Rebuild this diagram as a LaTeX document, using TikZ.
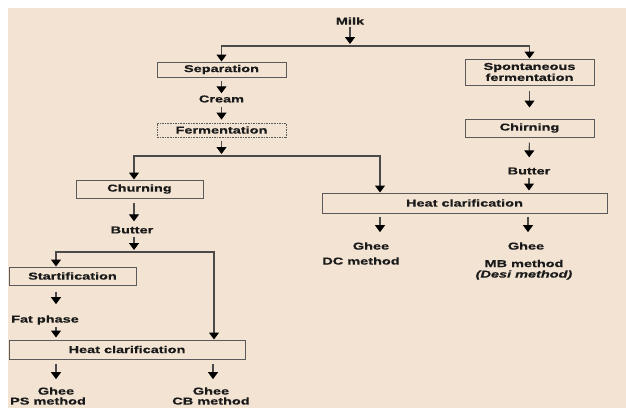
\documentclass[tikz,border=0pt]{standalone}
\usepackage{fontspec}
\newfontfamily\dfont{Liberation Sans}[FakeStretch=1.45,FakeBold=0.6]
\usetikzlibrary{arrows.meta}
\definecolor{bgc}{HTML}{F3E3D2}
\definecolor{linec}{HTML}{4A4A4A}
\definecolor{boxc}{HTML}{5A5A5A}
\definecolor{txtc}{HTML}{1A1A1A}
\begin{document}
\begin{tikzpicture}[x=1pt,y=-1pt,
  font=\dfont\bfseries\fontsize{10}{12}\selectfont, text=txtc,
  box/.style={draw=boxc, line width=1pt, inner sep=0pt, align=center},
  lbl/.style={inner sep=0pt, align=center},
  arr/.style={draw=linec, line width=1.1pt, -{Triangle[width=10pt,length=7pt,color=black]}},
  dbox/.style={box, dash pattern=on 1.6pt off 1pt, line width=0.8pt}]
\useasboundingbox (0,0) rectangle (626,408);
\fill[white] (0,0) rectangle (626,408);
\fill[bgc] (8,8) rectangle (626,408);

% nodes
\node[lbl] (milk) at (350,21) {Milk};
\coordinate (s1) at (350,46);
\node[box, minimum width=129pt, minimum height=15pt] (sep) at (221.5,69.5) {Separation};
\node[lbl] (cream) at (221.5,99) {Cream};
\node[dbox, minimum width=129pt, minimum height=14pt] (ferm) at (221.5,130) {Fermentation};
\coordinate (s2) at (221.5,156);
\coordinate (s2l) at (134,156);
\coordinate (s2r) at (380,156);
\node[box, minimum width=127pt, minimum height=18pt] (churn) at (139.5,189) {Churning};

\node[box, minimum width=129pt, minimum height=26pt] (spont) at (529.5,72) {Spontaneous\\[-1pt]fermentation};
\node[box, minimum width=129pt, minimum height=18pt] (chirn) at (529.5,128) {Chirning};
\node[lbl] (butter2) at (529,171) {Butter};
\node[box, minimum width=285pt, minimum height=20pt] (hc1) at (464.5,203) {Heat clarification};
\coordinate (c1) at (380,203);
\coordinate (c2) at (528,203);
\node[lbl] (ghee3) at (371,246) {Ghee};
\node[lbl] (dc) at (361,261) {DC method};
\node[lbl] (ghee4) at (526,246) {Ghee};
\node[lbl] (mb) at (524,263.5) {MB method};
\node[lbl] (desi) at (524,275) {\itshape (Desi method)};

\node[lbl] (butter1) at (132,230) {Butter};
\coordinate (s3) at (134,252);
\coordinate (s3l) at (56,252);
\coordinate (s3r) at (214,252);
\node[box, minimum width=127pt, minimum height=18pt] (strat) at (72.5,276) {Startification};
\node[lbl] (fat) at (45,320) {Fat phase};
\node[box, minimum width=236pt, minimum height=19pt] (hc2) at (127,349.5) {Heat clarification};
\coordinate (c3) at (213,349.5);
\node[lbl] (ghee1) at (56,391) {Ghee};
\node[lbl] (ps) at (48,401) {PS method};
\node[lbl] (ghee2) at (211,391) {Ghee};
\node[lbl] (cb) at (211,401) {CB method};

% connectors
\draw[arr, shorten <=2pt, shorten >=2pt] (milk.south) -- (s1);
\draw[arr] (s1) -| (sep.north);
\draw[arr] (s1) -| (spont.north);
\draw[arr, shorten <=3pt, shorten >=2pt] (sep) -- (cream);
\draw[arr, shorten <=4pt, shorten >=3pt] (cream) -- (ferm);
\draw[arr, shorten <=4pt, shorten >=2pt] (ferm.south) -- (s2);
\draw[arr] (s2) -- (s2l) -- (churn.north -| s2l);
\draw[arr] (s2) -- (s2r) -- (hc1.north -| s2r);

\draw[arr, shorten <=5pt, shorten >=11pt] (spont) -- (chirn);
\draw[arr, shorten <=5pt, shorten >=10pt] (chirn) -- (butter2);
\draw[arr, shorten <=3pt, shorten >=2pt] (butter2) -- (hc1.north -| butter2);
\draw[arr, shorten <=3pt, shorten >=10pt] (hc1.south -| c1) -- (ghee3.north -| c1);
\draw[arr, shorten <=3pt, shorten >=10pt] (hc1.south -| c2) -- (ghee4.north -| c2);

\draw[arr, shorten <=4pt, shorten >=5pt] (churn.south -| s3) -- (butter1.north -| s3);
\draw[arr, shorten <=3pt, shorten >=2pt] (butter1.south -| s3) -- (s3);
\draw[arr] (s3) -- (s3l) -- (strat.north -| s3l);
\draw[arr] (s3) -- (s3r) -- (hc2.north -| s3r);
\draw[arr, shorten <=6pt, shorten >=11pt] (strat.south -| s3l) -- (fat.north -| s3l);
\draw[arr, shorten <=2pt, shorten >=2pt] (fat.south -| s3l) -- (hc2.north -| s3l);
\draw[arr, shorten <=4pt, shorten >=8pt] (hc2.south -| s3l) -- (ghee1.north -| s3l);
\draw[arr, shorten <=4pt, shorten >=8pt] (hc2.south -| c3) -- (ghee2.north -| c3);
\end{tikzpicture}
\end{document}
